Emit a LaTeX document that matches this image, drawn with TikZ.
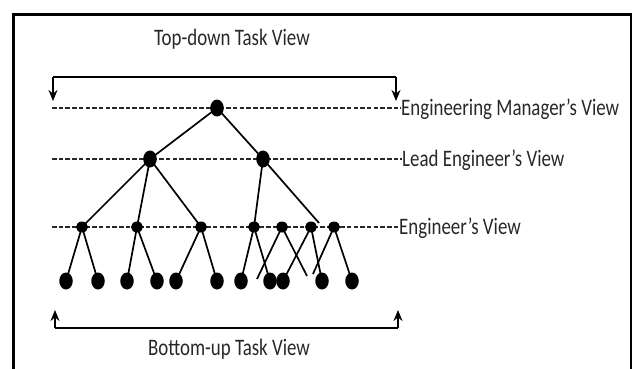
\documentclass[tikz,border=0pt]{standalone}
\usepackage{fontspec}
\setmainfont{Carlito}
\usepackage{graphicx}
\usetikzlibrary{arrows.meta,shapes.geometric}
\definecolor{ink}{RGB}{40,40,40}
\begin{document}
\begin{tikzpicture}[x=1pt,y=-1pt,
  bigdot/.style={ellipse,fill=black,inner sep=0,minimum width=13.5pt,minimum height=17pt},
  engdot/.style={ellipse,fill=black,inner sep=0,minimum width=12pt,minimum height=11pt},
  link/.style={line width=1.7pt,draw=black},
  level/.style={line width=2.2pt,draw=ink,dash pattern=on 4.5pt off 2.2pt},
  bracket/.style={line width=2pt,draw=black,-{Stealth[length=11pt,width=9pt]}},
  label/.style={inner sep=0,text=ink,font=\fontsize{18.9}{21}\selectfont}
]
\useasboundingbox (0,0) rectangle (632,369);
% frame
\draw[line width=3pt] (13.5,369) -- (13.5,14.5) -- (631,14.5);
\draw[line width=1.5pt] (631,13) -- (631,369);

% captions
\node[label,anchor=base] (top) at (232,46) {\scalebox{1}[1.25]{Top-down Task View}};
\node[label,anchor=base] (bot) at (229,355) {\scalebox{1}[1.25]{Bottom-up Task View}};

% level labels
\node[label,anchor=base west] (lm) at (401,115) {\scalebox{1}[1.25]{Engineering Manager's View}};
\node[label,anchor=base west] (ll) at (402,166) {\scalebox{1}[1.25]{Lead Engineer's View}};
\node[label,anchor=base west] (le) at (399,234) {\scalebox{1}[1.25]{Engineer's View}};

% dashed levels
\coordinate (m0) at (52,108);
\coordinate (l0) at (52,159);
\coordinate (e0) at (52,227);
\draw[level] (m0) -- (m0 -| lm.west);
\draw[level] (l0) -- (l0 -| ll.west);
\draw[level] (e0) -- (e0 -| le.west);

% top bracket
\coordinate (ta) at (53,77);
\coordinate (tb) at (396,77);
\coordinate (tl) at (53,101);
\coordinate (tr) at (396,101);
\draw[bracket] (ta) -- (tl);
\draw[bracket] (tb) -- (tr);
\draw[line width=2pt] (ta) -- (tb);

% bottom bracket
\coordinate (ba) at (55,328);
\coordinate (bb) at (398,328);
\coordinate (bl) at (55,310);
\coordinate (br) at (398,310);
\draw[bracket] (ba) -- (bl);
\draw[bracket] (bb) -- (br);
\draw[line width=2pt] (ba) -- (bb);

% tree nodes
\node[bigdot] (M) at (217,108) {};
\node[bigdot] (L1) at (150,159) {};
\node[bigdot] (L2) at (263,159) {};
\foreach \n/\x in {E1/82,E2/137,E3/201,E4/254,E5/282,E6/311,E7/334}
  \node[engdot] (\n) at (\x,227) {};
\foreach \n/\x in {A1/66,A2/98,A3/127,A4/157,A5/176,A6/217,A7/241,A8/270,A9/283,A10/322,A11/352}
  \node[bigdot] (\n) at (\x,281) {};
\coordinate (f0) at (319,223);
\coordinate (f1) at (257,279);
\coordinate (f2) at (307,276);
\coordinate (f3) at (313,274);

% edges
\draw[link] (M.center) -- (L1.center);
\draw[link] (M.center) -- (L2.center);
\draw[link] (L1.center) -- (E1.center);
\draw[link] (L1.center) -- (E2.center);
\draw[link] (L1.center) -- (E3.center);
\draw[link] (L2.center) -- (E4.center);
\draw[link] (L2.center) -- (f0);
\draw[link] (E1.center) -- (A1.center);
\draw[link] (E1.center) -- (A2.center);
\draw[link] (E2.center) -- (A3.center);
\draw[link] (E2.center) -- (A4.center);
\draw[link] (E3.center) -- (A5.center);
\draw[link] (E3.center) -- (A6.center);
\draw[link] (E4.center) -- (A7.center);
\draw[link] (E4.center) -- (A8.center);
\draw[link] (E5.center) -- (f1);
\draw[link] (E5.center) -- (f2);
\draw[link] (E6.center) -- (A9.center);
\draw[link] (E6.center) -- (A10.center);
\draw[link] (E7.center) -- (f3);
\draw[link] (E7.center) -- (A11.center);
\end{tikzpicture}
\end{document}
